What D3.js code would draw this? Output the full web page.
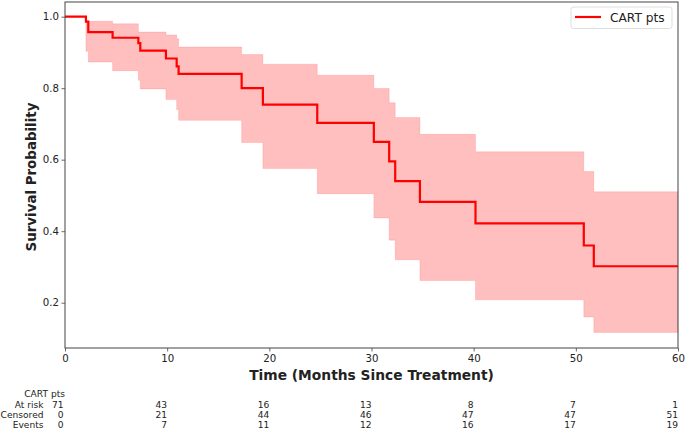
<!DOCTYPE html>
<html>
<head>
<meta charset="utf-8">
<script src="https://cdn.jsdelivr.net/npm/d3@7"></script>
<style>
  body { margin: 0; background: #fff; }
  svg text { font-family: "DejaVu Sans", sans-serif; fill: #222; }
</style>
</head>
<body>
<div id="wrapper"></div>
<script>
// 1. Data
const times = [0, 2.05, 2.28, 4.66, 7.18, 7.37, 9.88, 10.93, 11.12, 17.29, 19.37, 24.69, 30.23, 31.73, 32.32, 34.74, 40.18, 50.78, 51.76];
const survival = [1.0, 0.986, 0.957, 0.941, 0.926, 0.905, 0.883, 0.861, 0.840, 0.800, 0.754, 0.703, 0.650, 0.595, 0.540, 0.482, 0.422, 0.360, 0.302];
const ciUpper = [1.0, 0.987, 0.987, 0.980, 0.957, 0.957, 0.949, 0.938, 0.915, 0.894, 0.867, 0.836, 0.799, 0.759, 0.718, 0.671, 0.622, 0.567, 0.510];
const ciLower = [1.0, 0.903, 0.873, 0.849, 0.822, 0.798, 0.768, 0.740, 0.710, 0.648, 0.575, 0.505, 0.437, 0.375, 0.320, 0.262, 0.208, 0.160, 0.117];
const endTime = 60;

const xTicks = [0, 10, 20, 30, 40, 50, 60];
const yTicks = [0.2, 0.4, 0.6, 0.8, 1.0];
const atRisk = [71, 43, 16, 13, 8, 7, 1];
const censored = [0, 21, 44, 46, 47, 47, 51];
const events = [0, 7, 11, 12, 16, 17, 19];
const groupName = 'CART pts';

// 2. Dimensions
const width = 685;
const height = 432;
const plot = { left: 65, right: 678, top: 2, bottom: 348 };

const svg = d3.select('#wrapper').append('svg')
  .attr('width', width)
  .attr('height', height);

// 3. Scales
const x = d3.scaleLinear().domain([0, 60]).range([plot.left, plot.right]);
const y = d3.scaleLinear().domain([0.0733, 1.041]).range([plot.bottom, plot.top]);

const rows = times.map((t, i) => ({ t, s: survival[i], hi: ciUpper[i], lo: ciLower[i] }));
rows.push({ t: endTime, s: survival[survival.length - 1], hi: ciUpper[ciUpper.length - 1], lo: ciLower[ciLower.length - 1] });

// 4. Draw data
const band = d3.area()
  .curve(d3.curveStepAfter)
  .x(d => x(d.t))
  .y0(d => y(d.lo))
  .y1(d => y(d.hi));

svg.append('path')
  .attr('d', band(rows))
  .attr('fill', '#ff0000')
  .attr('fill-opacity', 0.25)
  .attr('stroke', '#ff0000')
  .attr('stroke-opacity', 0.12)
  .attr('stroke-width', 1);

const line = d3.line()
  .curve(d3.curveStepAfter)
  .x(d => x(d.t))
  .y(d => y(d.s));

svg.append('path')
  .attr('d', line(rows))
  .attr('fill', 'none')
  .attr('stroke', '#ff0000')
  .attr('stroke-width', 2.2);

// 5. Axes
const xAxis = svg.append('g')
  .attr('transform', `translate(0,${plot.bottom})`)
  .call(d3.axisBottom(x).tickValues(xTicks).tickSize(3.5).tickPadding(3).tickFormat(d3.format('d')));
const yAxis = svg.append('g')
  .attr('transform', `translate(${plot.left},0)`)
  .call(d3.axisLeft(y).tickValues(yTicks).tickSize(3.5).tickPadding(2.5).tickFormat(d3.format('.1f')));

[xAxis, yAxis].forEach(ax => {
  ax.select('.domain').remove();
  ax.selectAll('.tick line').attr('stroke', '#444').attr('stroke-width', 0.8);
  ax.selectAll('.tick text').style('font-family', '"DejaVu Sans", sans-serif').style('font-size', '10.2px').attr('fill', '#222');
});

svg.append('rect')
  .attr('x', plot.left)
  .attr('y', plot.top)
  .attr('width', plot.right - plot.left)
  .attr('height', plot.bottom - plot.top)
  .attr('fill', 'none')
  .attr('stroke', '#444')
  .attr('stroke-width', 1);

svg.append('text')
  .attr('x', (plot.left + plot.right) / 2)
  .attr('y', 380)
  .attr('text-anchor', 'middle')
  .style('font-weight', 'bold')
  .style('font-size', '13.8px')
  .text('Time (Months Since Treatment)');

svg.append('text')
  .attr('transform', `translate(35.5,${(plot.top + plot.bottom) / 2 + 2}) rotate(-90)`)
  .attr('text-anchor', 'middle')
  .style('font-weight', 'bold')
  .style('font-size', '13.4px')
  .text('Survival Probability');

// 6. Legend
const legend = svg.append('g');
legend.append('rect')
  .attr('x', 571).attr('y', 7)
  .attr('width', 101).attr('height', 21.5)
  .attr('rx', 2.5)
  .attr('fill', '#fff')
  .attr('fill-opacity', 0.8)
  .attr('stroke', '#d6d6d6')
  .attr('stroke-width', 0.8);
legend.append('line')
  .attr('x1', 575).attr('x2', 601)
  .attr('y1', 17).attr('y2', 17)
  .attr('stroke', '#ff0000')
  .attr('stroke-width', 2.2);
legend.append('text')
  .attr('x', 610).attr('y', 21.5)
  .style('font-size', '12.2px')
  .text(groupName);

// 7. At-risk table
const table = svg.append('g').style('font-size', '9.1px');
const rowY = [407.5, 417.5, 427.5];
const rowNames = ['At risk', 'Censored', 'Events'];
const rowValues = [atRisk, censored, events];

table.append('text')
  .attr('x', x(0)).attr('y', 397)
  .attr('text-anchor', 'end')
  .text(groupName);

rowNames.forEach((name, r) => {
  table.append('text')
    .attr('x', 43.5).attr('y', rowY[r])
    .attr('text-anchor', 'end')
    .text(name);
  table.selectAll(null)
    .data(rowValues[r])
    .join('text')
    .attr('x', (d, i) => x(xTicks[i]) - (i === 0 ? 1.5 : 0))
    .attr('y', rowY[r])
    .attr('text-anchor', 'end')
    .text(d => d);
});
</script>
</body>
</html>
